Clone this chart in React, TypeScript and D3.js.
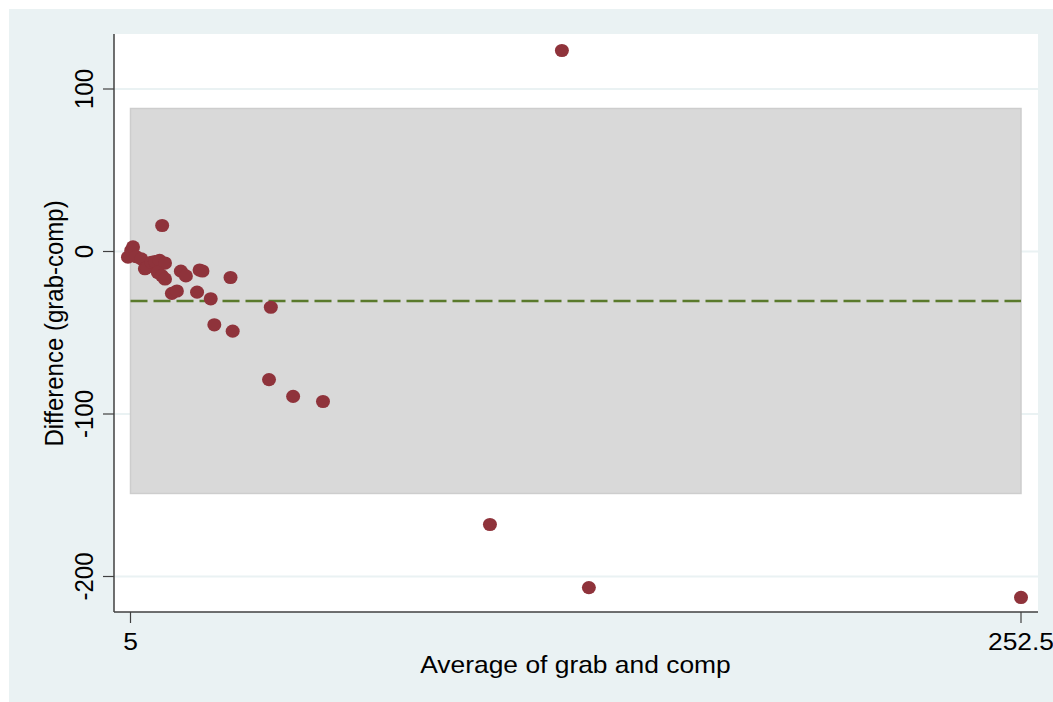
import React from "react";
import * as d3 from "d3";

const averages = [4.3, 5.2, 5.7, 6.5, 8.0, 9.0, 9.6, 10.8, 11.8, 13.1, 14.6, 12.6, 13.7, 14.6, 13.8, 19.0, 20.4, 24.2, 25.0, 16.5, 17.9, 23.5, 27.3, 28.3, 32.8, 33.4, 43.5, 44.0, 50.2, 58.5, 104.9, 124.9, 132.4, 252.5];
const differences = [-3.5, 0.6, 2.8, -3.1, -4.5, -10.6, -9.8, -6.6, -6.2, -5.5, -7.1, -12.9, -14.8, -16.9, 16.0, -12.1, -15.0, -11.4, -12.0, -25.8, -24.3, -25.0, -29.1, -45.1, -16.0, -49.0, -78.8, -34.3, -89.2, -92.3, -168.0, 123.7, -206.8, -212.9];
const meanDiff = -30.45;
const upperLimit = 88.0;
const lowerLimit = -148.9;
const bandRange = [5, 252.5];
const yTicks = [100, 0, -100, -200];
const xTicks = [5, 252.5];

export default function App() {
  const W = 1053, H = 702;
  const plot = { left: 114, right: 1038, top: 34, bottom: 612 };
  const x = d3.scaleLinear().domain([5, 252.5]).range([130.5, 1021]);
  const y = d3.scaleLinear().domain([100, -200]).range([89, 576.5]);
  const font = "'Liberation Sans', Arial, Helvetica, sans-serif";
  const sx = 1.1;
  const fs = 24;
  const pts = averages.map((a, i) => ({ a, d: differences[i] }));
  return (
    <svg width={W} height={H} style={{ position: "absolute", left: 0, top: 0 }} fontFamily={font}>
      <rect x={0} y={0} width={W} height={H} fill="#ffffff" />
      <rect x={9} y={9} width={W - 9} height={H - 9} fill="#eaf2f3" />
      <rect x={plot.left} y={plot.top} width={plot.right - plot.left} height={plot.bottom - plot.top} fill="#ffffff" />
      {yTicks.map((t) => (
        <line key={"g" + t} x1={plot.left} x2={plot.right} y1={y(t)} y2={y(t)} stroke="#eaf2f3" strokeWidth={2} />
      ))}
      <rect
        x={x(bandRange[0])}
        y={y(upperLimit)}
        width={x(bandRange[1]) - x(bandRange[0])}
        height={y(lowerLimit) - y(upperLimit)}
        fill="#d9d9d9"
        stroke="#cdcdcd"
        strokeWidth={1.5}
      />
      <line
        x1={x(bandRange[0])}
        x2={x(bandRange[1])}
        y1={y(meanDiff)}
        y2={y(meanDiff)}
        stroke="#5a7a2c"
        strokeWidth={2.5}
        strokeDasharray="17 6"
      />
      {pts.map((p, i) => (
        <ellipse key={i} cx={x(p.a)} cy={y(p.d)} rx={7} ry={6.6} fill="#8f333b" />
      ))}
      <line x1={plot.left} x2={plot.left} y1={plot.top} y2={plot.bottom} stroke="#404040" strokeWidth={1.5} />
      <line x1={plot.left} x2={plot.right} y1={plot.bottom} y2={plot.bottom} stroke="#404040" strokeWidth={1.5} />
      {yTicks.map((t) => (
        <g key={"yt" + t}>
          <line x1={plot.left - 11} x2={plot.left} y1={y(t)} y2={y(t)} stroke="#404040" strokeWidth={1.2} />
          <text
            transform={`translate(${92.5},${y(t)}) scale(${sx},1) rotate(-90)`}
            textAnchor="middle"
            fontSize={fs}
            fill="#000"
          >
            {t}
          </text>
        </g>
      ))}
      {xTicks.map((t) => (
        <g key={"xt" + t}>
          <line x1={x(t)} x2={x(t)} y1={plot.bottom} y2={plot.bottom + 11} stroke="#404040" strokeWidth={1.2} />
          <text
            transform={`translate(${x(t)},${650}) scale(${sx},1)`}
            textAnchor="middle"
            fontSize={fs}
            fill="#000"
          >
            {t}
          </text>
        </g>
      ))}
      <text transform={`translate(${575.5},${673}) scale(${sx},1)`} textAnchor="middle" fontSize={fs} fill="#000">
        Average of grab and comp
      </text>
      <text
        transform={`translate(${63},${(plot.top + plot.bottom) / 2 + 0.5}) scale(${sx},1) rotate(-90)`}
        textAnchor="middle"
        fontSize={fs}
        fill="#000"
      >
        Difference (grab-comp)
      </text>
    </svg>
  );
}
